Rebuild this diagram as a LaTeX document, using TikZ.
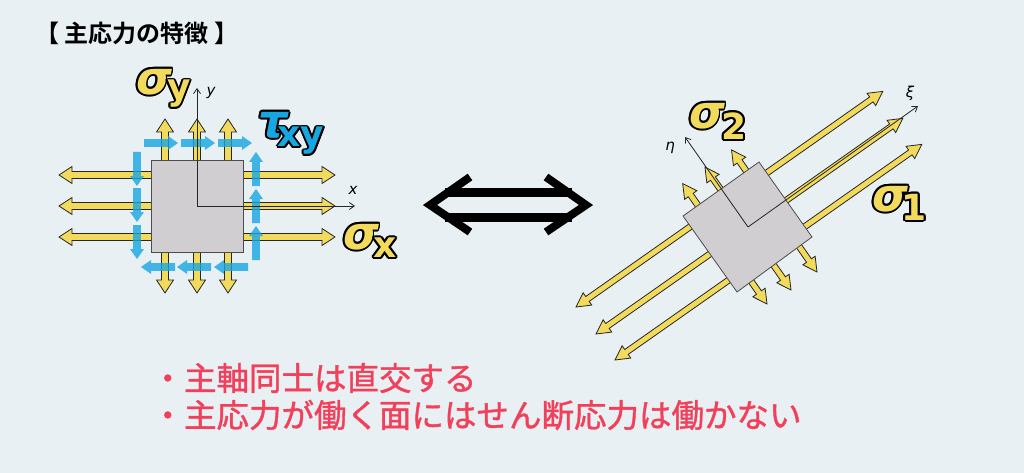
\documentclass[tikz,border=0pt]{standalone}
\usepackage{fontspec}
\setmainfont{DejaVu Sans}
\newfontfamily\cjk[FakeBold=1.2]{Noto Sans CJK JP}
\newfontfamily\cjkb{Noto Sans CJK JP Bold}
\usetikzlibrary{calc,arrows.meta}
\definecolor{bg}{HTML}{E8F0F3}
\definecolor{yel}{HTML}{F2DA5C}
\definecolor{blu}{HTML}{16A6E2}
\definecolor{sq}{HTML}{D0CED0}
\definecolor{red}{HTML}{F2405A}
\tikzset{
 yarrow/.style={fill=yel,draw=black!85,line width=0.8pt,line join=miter},
 barrow/.style={fill=blu,fill opacity=0.8,draw=none},
 axis/.style={draw=black!85,line width=0.8pt,-{Straight Barb[length=5pt,width=7pt]}},
 axlab/.style={font=\itshape\fontsize{15}{15}\selectfont},
 bigsym/.style={font=\bfseries\itshape\fontsize{46}{46}\selectfont},
 subsym/.style={font=\bfseries\fontsize{36}{36}\selectfont}
}
% angles given in pixel (y-down) sense
\newcommand\yarr[7]{\begin{scope}[shift={(#1,#2)},rotate=-#3]
 \path[yarrow] (0,0)--(#6,#7)--(#6,#5)--(#4-#6,#5)--(#4-#6,#7)--(#4,0)--(#4-#6,-#7)--(#4-#6,-#5)--(#6,-#5)--(#6,-#7)--cycle;
 \end{scope}}
\newcommand\barr[4]{\begin{scope}[shift={(#1,#2)},rotate=-#3]
 \path[barrow] (0,-3.8)--(#4-10,-3.8)--(#4-10,-7)--(#4,0)--(#4-10,7)--(#4-10,3.8)--(0,3.8)--cycle;
 \end{scope}}
\newcommand\otext[5]{%
 \foreach \a in {0,30,...,330}{\node[#4,text=black] at ($(#1,#2)+(\a:1.9)$) {#5};}
 \node[#4,text=#3] at (#1,#2) {#5};}
\begin{document}
\begin{tikzpicture}[x=1pt,y=-1pt]
\useasboundingbox (0,0) rectangle (1024,473);
\fill[bg] (0,0) rectangle (1024,473);
\node[anchor=west,font=\cjkb\fontsize{24}{24}\selectfont] (title) at (32,33) {【 主応力の特徴 】};
% left element
\foreach \y in {175,206,237}{\yarr{59}{\y}{0}{276}{3.5}{13}{8.5}}
\foreach \x in {165,197,228}{\yarr{\x}{119}{90}{174}{3.5}{13}{8.5}}
\foreach \x in {144,181,218}{\barr{\x}{143}{0}{34}}
\foreach \x in {248,211,175}{\barr{\x}{267}{180}{34}}
\foreach \y in {152,188,225}{\barr{137}{\y}{90}{34}}
\foreach \y in {260,223,186}{\barr{256}{\y}{-90}{34}}
\node[draw=black!70,fill=sq,line width=0.8pt,minimum size=92pt,inner sep=0pt] (lsq) at (197,206) {};
\coordinate (lo) at (197,206);
\coordinate (lx) at (355,206);
\coordinate (ly) at (197,88);
\draw[axis] (lo)--(lx);
\draw[axis] (lo)--(ly);
\node[axlab] (xl) at (353,190) {x};
\node[axlab] (yl) at (211,93) {y};
\otext{154}{82}{yel}{bigsym}{σ}
\otext{179}{94}{yel}{subsym}{y}
\otext{273}{125}{blu}{bigsym}{τ}
\otext{301}{141}{blu}{subsym}{xy}
\otext{361}{237}{yel}{bigsym}{σ}
\otext{385}{248}{yel}{subsym}{x}
% middle double arrow
\draw[line width=8pt,line join=miter,line cap=butt] (470,177)--(430,205)--(470,232);
\draw[line width=8pt,line join=miter,line cap=butt] (546,177)--(586,205)--(546,232);
\draw[line width=9pt] (445,192.5)--(572,192.5);
\draw[line width=9pt] (445,217)--(572,217);
% right element
\yarr{576}{307}{-35.1}{375}{3}{14}{7.5}
\yarr{596}{334}{-35.1}{375}{3}{14}{7.5}
\yarr{615}{360}{-35.1}{375}{3}{14}{7.5}
\yarr{767}{304}{-125}{147}{3}{14}{7.5}
\yarr{791}{290}{-125}{150}{3}{14}{7.5}
\yarr{817}{272}{-125}{149}{3}{14}{7.5}
\draw[fill=sq,draw=black!70,line width=0.8pt] (683,216)--(759,162)--(812,237)--(737,292)--cycle;
\coordinate (ro) at (748,227);
\coordinate (rxi) at (918,106);
\coordinate (reta) at (685,137);
\draw[axis] (ro)--(rxi);
\draw[axis] (ro)--(reta);
\node[axlab] (xil) at (910,93) {ξ};
\node[axlab] (etal) at (670,148) {η};
\otext{707}{116}{yel}{bigsym}{σ}
\otext{734}{126}{yel}{subsym}{2}
\otext{890}{199}{yel}{bigsym}{σ}
\otext{914}{207}{yel}{subsym}{1}
% texts
\node[anchor=west,text=red,font=\cjk\fontsize{32.5}{32}\selectfont] (t1) at (148,378) {・主軸同士は直交する};
\node[anchor=west,text=red,font=\cjk\fontsize{32.5}{32}\selectfont] (t2) at (148,415) {・主応力が働く面にはせん断応力は働かない};
\end{tikzpicture}
\end{document}
